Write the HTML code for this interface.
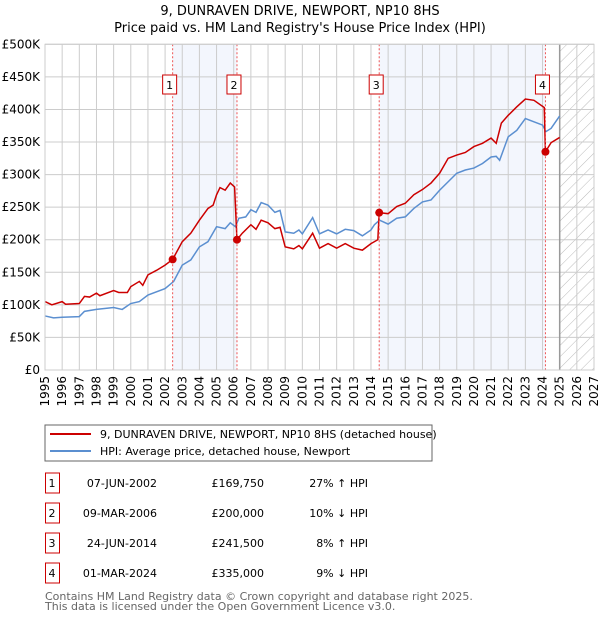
<!DOCTYPE html>
<html><head><meta charset="utf-8"><style>
body{margin:0;background:#fff;font-family:"DejaVu Sans","Liberation Sans",sans-serif;}
svg text{font-family:"DejaVu Sans","Liberation Sans",sans-serif;}
</style></head><body>
<svg id="chart" width="600" height="620" xmlns="http://www.w3.org/2000/svg">
<defs><pattern id="hatch" patternUnits="userSpaceOnUse" width="8" height="8" patternTransform="rotate(45)"><line x1="0" y1="0" x2="0" y2="8" stroke="#bbb" stroke-width="1"/></pattern></defs>
<text x="300" y="15" text-anchor="middle" font-size="13">9, DUNRAVEN DRIVE, NEWPORT, NP10 8HS</text>
<text x="300" y="32" text-anchor="middle" font-size="13">Price paid vs. HM Land Registry's House Price Index (HPI)</text>
<g id="bg"></g><g id="grid"></g><g id="lines"></g><g id="marks"></g><g id="axes"></g>
<g>
<rect x="45" y="425" width="387" height="36" fill="#fff" stroke="#666"/>
<line x1="50" y1="434" x2="91" y2="434" stroke="#cc0000" stroke-width="2"/>
<text x="100" y="438" font-size="11">9, DUNRAVEN DRIVE, NEWPORT, NP10 8HS (detached house)</text>
<line x1="50" y1="451" x2="91" y2="451" stroke="#5b8fd0" stroke-width="2"/>
<text x="100" y="455" font-size="11">HPI: Average price, detached house, Newport</text>
</g>
<g id="table"></g>
<text x="45" y="600" font-size="11" fill="#666">Contains HM Land Registry data © Crown copyright and database right 2025.</text>
<text x="45" y="610" font-size="11" fill="#666">This data is licensed under the Open Government Licence v3.0.</text>
</svg>
<script>
const hpiYears=[1995,1995.5,1996,1997,1997.3,1998,1999,1999.5,2000,2000.5,2001,2002,2002.5,2003,2003.5,2004,2004.5,2005,2005.5,2005.8,2006.1,2006.3,2006.7,2007,2007.3,2007.6,2008,2008.4,2008.7,2009,2009.5,2009.8,2010,2010.6,2011,2011.5,2012,2012.5,2013,2013.5,2014,2014.2,2014.5,2015,2015.5,2016,2016.5,2017,2017.5,2018,2018.5,2019,2019.5,2020,2020.5,2021,2021.3,2021.5,2022,2022.5,2023,2023.5,2024,2024.2,2024.5,2025];
const hpiValues=[83,80,81,82,90,93,96,93,102,105,115,125,136,161,169,189,197,220,217,226,220,233,235,246,242,257,253,242,245,212,210,215,209,234,209,215,209,216,214,206,215,223,230,224,233,235,248,258,261,276,289,302,307,310,317,327,328,322,358,368,386,381,376,366,371,390];
const paidYears=[1995,1995.4,1996,1996.2,1997,1997.3,1997.6,1998,1998.2,1999,1999.3,1999.8,2000,2000.5,2000.7,2001,2001.5,2002,2002.44,2003,2003.5,2004,2004.5,2004.8,2005,2005.2,2005.5,2005.8,2006.05,2006.19,2006.5,2007,2007.3,2007.6,2008,2008.4,2008.7,2009,2009.5,2009.8,2010,2010.6,2011,2011.5,2012,2012.5,2013,2013.5,2014,2014.4,2014.48,2015,2015.5,2016,2016.5,2017,2017.5,2018,2018.5,2019,2019.5,2020,2020.5,2021,2021.3,2021.6,2022,2022.5,2023,2023.5,2024.1,2024.17,2024.5,2025];
const paidValues=[105,100,105,101,102,113,112,118,114,122,119,119,128,136,130,146,153,161,169.75,197,210,230,248,253,269,280,276,287,281,200,210,223,216,230,226,217,219,189,186,191,186,210,187,194,187,194,187,184,194,200,241.5,240,251,256,269,277,287,302,325,330,334,343,348,356,348,379,391,404,416,414,403,335,349,357];
const saleLabels=["1","2","3","4"];
const saleYears=[2002.44,2006.19,2014.48,2024.17];
const saleValues=[169.75,200,241.5,335];
const saleDates=["07-JUN-2002","09-MAR-2006","24-JUN-2014","01-MAR-2024"];
const salePrices=["£169,750","£200,000","£241,500","£335,000"];
const saleDiffs=["27% ↑ HPI","10% ↓ HPI","8% ↑ HPI","9% ↓ HPI"];
const yTicks=[0,50,100,150,200,250,300,350,400,450,500];
const yTickLabels=["£0","£50K","£100K","£150K","£200K","£250K","£300K","£350K","£400K","£450K","£500K"];
const xStart=1995,xEnd=2027,forecastStart=2025;
const L=45,R=594,T=44.3,B=370;
const xs=y=>L+(y-xStart)/(xEnd-xStart)*(R-L);
const ys=v=>B-v/500*(B-T);
const NS="http://www.w3.org/2000/svg";
function mk(parent,tag,attrs){const e=document.createElementNS(NS,tag);for(const k in attrs)e.setAttribute(k,attrs[k]);document.getElementById(parent).appendChild(e);return e;}
[[0,1],[2,3]].forEach(p=>{const r=mk('bg','rect',{x:xs(saleYears[p[0]]),y:T,width:xs(saleYears[p[1]])-xs(saleYears[p[0]]),height:B-T,fill:'#f3f6fd'});

});
const h=mk('bg','rect',{x:xs(forecastStart),y:T,width:R-xs(forecastStart),height:B-T,fill:'url(#hatch)'});


for(let yr=xStart;yr<=xEnd;yr++){const g=mk('grid','line',{x1:xs(yr),x2:xs(yr),y1:T,y2:B,stroke:'#ccc','stroke-width':1});


const t=mk('axes','text',{x:0,y:0,'font-size':12,'text-anchor':'end',transform:`translate(${xs(yr)+4},${B+6}) rotate(-90)`});t.textContent=yr;

}
yTicks.forEach((v,i)=>{const g=mk('grid','line',{x1:L,x2:R,y1:ys(v),y2:ys(v),stroke:'#ccc','stroke-width':1});


const t=mk('axes','text',{x:L-5,y:ys(v)+4,'font-size':12,'text-anchor':'end'});t.textContent=yTickLabels[i];

});
const fl=mk('grid','line',{x1:xs(forecastStart),x2:xs(forecastStart),y1:T,y2:B,stroke:'#999','stroke-width':1.5});


const hp=mk('lines','polyline',{points:hpiYears.map((y,i)=>xs(y)+','+ys(hpiValues[i])).join(' '),fill:'none',stroke:'#5b8fd0','stroke-width':1.5});


const pp=mk('lines','polyline',{points:paidYears.map((y,i)=>xs(y)+','+ys(paidValues[i])).join(' '),fill:'none',stroke:'#cc0000','stroke-width':1.5});


saleYears.forEach((y,i)=>{const x=xs(y);
const vl=mk('marks','line',{x1:x,x2:x,y1:T,y2:B,stroke:'#e55','stroke-width':1,'stroke-dasharray':'2,2'});


const c=mk('marks','circle',{cx:x,cy:ys(saleValues[i]),r:4,fill:'#cc0000'});


const b=mk('marks','rect',{x:x-10,y:75,width:14,height:19,fill:'#fff',stroke:'#cc0000','stroke-width':1});


const t=mk('marks','text',{x:x-3,y:89,'font-size':11,'text-anchor':'middle'});t.textContent=saleLabels[i];

});
const pb=mk('axes','rect',{x:L,y:T,width:R-L,height:B-T,fill:'none',stroke:'#ccc'});


const rowY=[483,513,543,573];
saleLabels.forEach((s,i)=>{const y=rowY[i];
const b=mk('table','rect',{x:45.5,y:y-10,width:14,height:20,fill:'#fff',stroke:'#cc0000'});


const cells=[[s,52,'middle'],[saleDates[i],157,'end'],[salePrices[i],264,'end'],[saleDiffs[i],368,'end']];
cells.forEach(c=>{const t=mk('table','text',{x:c[1],y:y+4,'font-size':11,'text-anchor':c[2]});t.textContent=c[0];

});});
</script>
</body></html>
